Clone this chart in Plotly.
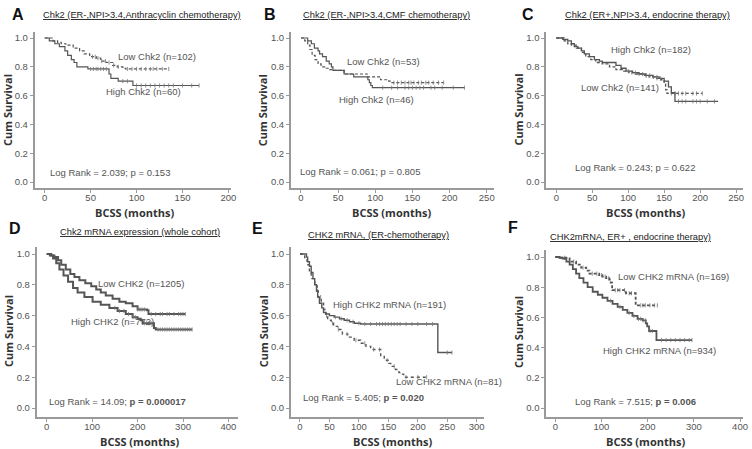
import plotly.graph_objects as go

# ---------------- DATA ----------------
# Panel A: Chk2 (ER-, NPI>3.4, Anthracyclin chemotherapy)
A_high_t = [0, 5, 11, 16, 22, 25, 29, 32, 35, 47, 70, 72, 80, 96, 168]
A_high_s = [1.0, 0.98, 0.96, 0.94, 0.91, 0.88, 0.85, 0.83, 0.80, 0.785, 0.75, 0.72, 0.70, 0.67, 0.67]
A_high_c = [50, 53, 56, 58, 61, 64, 67, 85, 90, 100, 105, 110, 115, 120, 125, 130, 135, 140, 150, 160, 168]
A_low_t = [0, 9, 14, 18, 23, 31, 38, 43, 49, 56, 61, 67, 74, 79, 85, 88, 135]
A_low_s = [1.0, 0.98, 0.97, 0.96, 0.95, 0.93, 0.91, 0.89, 0.87, 0.86, 0.84, 0.83, 0.81, 0.80, 0.79, 0.785, 0.785]
A_low_c = [52, 55, 58, 62, 66, 70, 75, 80, 90, 95, 100, 105, 110, 115, 118, 122, 128, 135]

# Panel B: Chk2 (ER-, NPI>3.4, CMF chemotherapy)
B_high_t = [0, 9, 14, 18, 23, 25, 29, 34, 38, 41, 43, 58, 71, 90, 92, 94, 96, 220]
B_high_s = [1.0, 0.98, 0.96, 0.93, 0.91, 0.89, 0.87, 0.84, 0.82, 0.80, 0.775, 0.75, 0.73, 0.71, 0.69, 0.67, 0.655, 0.655]
B_high_c = [110, 122, 130, 140, 145, 150, 155, 160, 165, 175, 180, 190, 205, 220]
B_low_t = [0, 5, 9, 12, 15, 19, 23, 27, 34, 38, 44, 58, 89, 107, 118, 121, 192]
B_low_s = [1.0, 0.98, 0.95, 0.92, 0.88, 0.85, 0.82, 0.80, 0.79, 0.78, 0.775, 0.75, 0.73, 0.71, 0.70, 0.69, 0.69]
B_low_c = [125, 130, 135, 140, 145, 148, 152, 158, 162, 168, 172, 178, 185, 192]

# Panel C: Chk2 (ER+, NPI>3.4, endocrine therapy)
C_high_t = [0, 9, 16, 21, 25, 30, 35, 39, 46, 53, 60, 64, 83, 90, 97, 106, 115, 124, 134, 143, 150, 156, 160, 165, 225]
C_high_s = [1.0, 0.99, 0.98, 0.96, 0.94, 0.93, 0.91, 0.89, 0.87, 0.85, 0.84, 0.83, 0.81, 0.79, 0.77, 0.76, 0.75, 0.74, 0.73, 0.72, 0.70, 0.66, 0.62, 0.56, 0.56]
C_high_c = [100, 110, 120, 125, 130, 135, 140, 145, 170, 175, 180, 190, 195, 200, 210, 220]
C_low_t = [0, 11, 16, 21, 28, 35, 41, 48, 55, 64, 74, 83, 92, 101, 110, 120, 129, 138, 145, 150, 152, 154, 203]
C_low_s = [1.0, 0.98, 0.96, 0.95, 0.93, 0.90, 0.87, 0.85, 0.83, 0.82, 0.80, 0.78, 0.77, 0.76, 0.75, 0.74, 0.73, 0.72, 0.71, 0.68, 0.64, 0.615, 0.615]
C_low_c = [105, 115, 125, 135, 140, 160, 165, 170, 175, 180, 190, 195, 203]

# Panel D: Chk2 mRNA expression (whole cohort)
D_high_t = [0, 7, 14, 21, 28, 37, 47, 58, 68, 83, 101, 119, 138, 156, 174, 189, 200, 207, 211, 236, 240, 320]
D_high_s = [1.0, 0.99, 0.97, 0.94, 0.90, 0.86, 0.82, 0.78, 0.75, 0.72, 0.69, 0.67, 0.65, 0.63, 0.61, 0.59, 0.58, 0.57, 0.55, 0.52, 0.51, 0.51]
D_high_c = [150, 160, 170, 180, 190, 195, 215, 220, 225, 230, 245, 250, 255, 260, 265, 270, 275, 280, 285, 290, 295, 300, 305, 310, 315, 320]
D_low_t = [0, 10, 17, 25, 32, 42, 52, 61, 72, 85, 98, 109, 119, 130, 145, 160, 174, 189, 200, 221, 224, 305]
D_low_s = [1.0, 0.99, 0.98, 0.96, 0.93, 0.90, 0.87, 0.85, 0.83, 0.81, 0.79, 0.77, 0.75, 0.73, 0.71, 0.69, 0.68, 0.66, 0.64, 0.635, 0.61, 0.61]
D_low_c = [200, 205, 210, 215, 230, 240, 250, 255, 265, 270, 280, 290, 295, 300, 305]

# Panel E: CHK2 mRNA, (ER-chemotherapy)
E_high_t = [0, 11, 13, 16, 19, 22, 25, 28, 30, 33, 37, 40, 44, 50, 58, 67, 75, 84, 92, 103, 234, 258]
E_high_s = [1.0, 0.98, 0.95, 0.92, 0.88, 0.84, 0.80, 0.76, 0.72, 0.68, 0.65, 0.62, 0.61, 0.60, 0.59, 0.58, 0.57, 0.56, 0.55, 0.545, 0.36, 0.36]
E_high_c = [60, 70, 80, 90, 100, 110, 120, 130, 135, 140, 145, 150, 155, 160, 165, 170, 180, 190, 200, 215, 225, 250, 258]
E_low_t = [0, 8, 12, 16, 19, 25, 29, 31, 36, 40, 44, 47, 53, 57, 64, 72, 81, 92, 103, 112, 120, 137, 143, 151, 154, 162, 168, 171, 176, 216]
E_low_s = [1.0, 0.97, 0.93, 0.88, 0.84, 0.80, 0.76, 0.72, 0.68, 0.64, 0.60, 0.57, 0.55, 0.53, 0.51, 0.48, 0.46, 0.44, 0.42, 0.40, 0.38, 0.34, 0.31, 0.29, 0.27, 0.25, 0.23, 0.22, 0.20, 0.20]
E_low_c = [30, 35, 45, 55, 65, 80, 95, 110, 125, 135, 148, 160, 180, 200, 215]

# Panel F: CHK2mRNA, ER+ , endocrine therapy
F_high_t = [0, 9, 16, 24, 31, 38, 45, 52, 61, 70, 81, 92, 102, 113, 124, 135, 146, 156, 167, 178, 189, 196, 199, 203, 219, 296]
F_high_s = [1.0, 0.995, 0.99, 0.97, 0.95, 0.92, 0.89, 0.86, 0.83, 0.80, 0.77, 0.75, 0.73, 0.71, 0.69, 0.67, 0.65, 0.63, 0.61, 0.59, 0.58, 0.56, 0.54, 0.51, 0.45, 0.45]
F_high_c = [120, 140, 160, 170, 180, 185, 190, 195, 205, 210, 230, 240, 250, 260, 270, 280, 290, 296]
F_low_t = [0, 9, 24, 31, 45, 56, 67, 74, 95, 102, 110, 117, 120, 123, 153, 174, 221]
F_low_s = [1.0, 0.995, 0.99, 0.97, 0.95, 0.93, 0.91, 0.89, 0.88, 0.87, 0.86, 0.85, 0.83, 0.78, 0.76, 0.68, 0.68]
F_low_c = [20, 40, 60, 80, 90, 100, 108, 115, 130, 135, 140, 150, 160, 165, 185, 190, 195, 205, 215, 221]

panel_letters = ["A", "B", "C", "D", "E", "F"]
panel_titles = [
    "Chk2 (ER-,NPI&gt;3.4,Anthracyclin chemotherapy)",
    "Chk2 (ER-,NPI&gt;3.4,CMF chemotherapy)",
    "Chk2 (ER+,NPI&gt;3.4, endocrine therapy)",
    "Chk2 mRNA expression (whole cohort)",
    "CHK2 mRNA, (ER-chemotherapy)",
    "CHK2mRNA, ER+ , endocrine therapy)",
]
high_labels = ["High Chk2 (n=60)", "High Chk2 (n=46)", "High Chk2 (n=182)",
               "High CHK2 (n=772)", "High CHK2 mRNA (n=191)", "High CHK2 mRNA (n=934)"]
low_labels = ["Low Chk2 (n=102)", "Low Chk2 (n=53)", "Low Chk2 (n=141)",
              "Low CHK2 (n=1205)", "Low CHK2 mRNA (n=81)", "Low CHK2 mRNA (n=169)"]
logrank_texts = ["Log Rank = 2.039; p = 0.153", "Log Rank = 0.061; p = 0.805",
                 "Log Rank = 0.243; p = 0.622", "Log Rank = 14.09; <b>p = 0.000017</b>",
                 "Log Rank = 5.405; <b>p = 0.020</b>", "Log Rank = 7.515; <b>p = 0.006</b>"]
x_ticks = [[0, 50, 100, 150, 200], [0, 50, 100, 150, 200, 250], [0, 50, 100, 150, 200, 250],
           [0, 100, 200, 300, 400], [0, 50, 100, 150, 200, 250, 300], [0, 100, 200, 300, 400]]
y_ticks = [0.0, 0.2, 0.4, 0.6, 0.8, 1.0]

series = [
    (A_high_t, A_high_s, A_high_c, A_low_t, A_low_s, A_low_c),
    (B_high_t, B_high_s, B_high_c, B_low_t, B_low_s, B_low_c),
    (C_high_t, C_high_s, C_high_c, C_low_t, C_low_s, C_low_c),
    (D_high_t, D_high_s, D_high_c, D_low_t, D_low_s, D_low_c),
    (E_high_t, E_high_s, E_high_c, E_low_t, E_low_s, E_low_c),
    (F_high_t, F_high_s, F_high_c, F_low_t, F_low_s, F_low_c),
]

# ---------------- LAYOUT GEOMETRY (pixels) ----------------
W, H = 752, 449
# x0, x1 (axis extent), zx (px of 0 months), kx (px/month), ytop, ybot, y1 (px of 1.0), ky (px per unit)
geom = [
    (35, 233, 45, 0.925, 32, 188, 38, 144),
    (293, 497, 303, 0.748, 32, 188, 38, 144),
    (550, 748, 560, 0.724, 32, 188, 38, 144),
    (37, 240, 47, 0.4575, 247, 417, 254, 154),
    (293, 487, 302, 0.593, 247, 417, 254, 154),
    (550, 748, 559, 0.465, 250, 417, 257, 151),
]
letter_pos = [(18, 15), (272, 15), (532, 15), (15, 228), (259, 228), (516, 227)]
title_pos = [(41, 15), (303, 15), (567, 15), (58, 232), (308, 235), (552, 237)]
ytitle_x = [8, 265, 522, 8, 265, 522]
xtitle_pos = [(135, 212), (394, 212), (650, 212), (140, 441), (395, 441), (650, 441)]
high_label_pos = [(65, 0.63), (49, 0.57), (73, 0.92), (50, 0.56), (52, 0.67), (99, 0.38)]
low_label_pos = [(78, 0.87), (59, 0.835), (32, 0.655), (109, 0.81), (160, 0.17), (131, 0.87)]
lr_pos = [(3.5, 0.065), (-4, 0.07), (23, 0.10), (0, 0.04), (1.7, 0.07), (38, 0.04)]
low_dash = ["3px,2px", "3px,2px", "3px,2px", "solid", "dot", "3px,2px"]
line_w = [1.2, 1.2, 1.3, 2.0, 1.4, 1.8]

LINE = "#555555"
CENS = "#777777"
AXIS = "#9a9a9a"
TXT = "#555555"
FONT = "Liberation Sans, Arial, sans-serif"
BOLDFONT = "Open Sans, DejaVu Sans, sans-serif"


def step_value(ts, ss, c):
    v = ss[0]
    for t, s in zip(ts, ss):
        if t <= c:
            v = s
    return v


fig = go.Figure()
annotations = []
layout = {}

for i in range(6):
    x0, x1, zx, kx, ytop, ybot, y1, ky = geom[i]
    xr = [(x0 - zx) / kx, (x1 - zx) / kx]
    yr = [1 - (ybot - y1) / ky, 1 - (ytop - y1) / ky]
    xa = "xaxis" if i == 0 else f"xaxis{i+1}"
    ya = "yaxis" if i == 0 else f"yaxis{i+1}"
    xref = "x" if i == 0 else f"x{i+1}"
    yref = "y" if i == 0 else f"y{i+1}"
    layout[xa] = dict(domain=[x0 / W, x1 / W], range=xr, anchor=yref,
                      showline=True, linecolor=AXIS, linewidth=2, ticks="outside",
                      ticklen=3, tickcolor=AXIS, tickwidth=1, tickvals=x_ticks[i],
                      showgrid=False, zeroline=False, ticklabelstandoff=-3,
                      tickfont=dict(family=FONT, size=9.5, color=TXT))
    layout[ya] = dict(domain=[1 - ybot / H, 1 - ytop / H], range=yr, anchor=xref,
                      showline=True, linecolor=AXIS, linewidth=2, ticks="outside",
                      ticklen=3, tickcolor=AXIS, tickwidth=1, tickvals=y_ticks,
                      tickformat=".1f", showgrid=False, zeroline=False,
                      tickfont=dict(family=FONT, size=9.5, color=TXT))

    ht, hs, hc, lt, ls, lc = series[i]
    # low curve
    fig.add_trace(go.Scatter(x=lt, y=ls, mode="lines", line_shape="hv",
                             line=dict(color=LINE, width=line_w[i], dash=low_dash[i]),
                             xaxis=xref, yaxis=yref, showlegend=False, hoverinfo="skip"))
    fig.add_trace(go.Scatter(x=lc, y=[step_value(lt, ls, c) for c in lc], mode="markers",
                             marker=dict(symbol="line-ns-open", size=3, color=CENS,
                                         line=dict(color=CENS, width=0.8)),
                             xaxis=xref, yaxis=yref, showlegend=False, hoverinfo="skip"))
    # high curve
    fig.add_trace(go.Scatter(x=ht, y=hs, mode="lines", line_shape="hv",
                             line=dict(color=LINE, width=line_w[i]),
                             xaxis=xref, yaxis=yref, showlegend=False, hoverinfo="skip"))
    fig.add_trace(go.Scatter(x=hc, y=[step_value(ht, hs, c) for c in hc], mode="markers",
                             marker=dict(symbol="line-ns-open", size=3, color=CENS,
                                         line=dict(color=CENS, width=0.8)),
                             xaxis=xref, yaxis=yref, showlegend=False, hoverinfo="skip"))

    # in-plot labels
    for (tx, ty), txt in [(high_label_pos[i], high_labels[i]), (low_label_pos[i], low_labels[i]),
                          (lr_pos[i], logrank_texts[i])]:
        annotations.append(dict(x=tx, y=ty, xref=xref, yref=yref, text=txt, showarrow=False,
                                xanchor="left", yanchor="middle",
                                font=dict(family=FONT, size=9.5, color=TXT)))
    # panel letter
    lx, ly = letter_pos[i]
    annotations.append(dict(x=lx / W, y=1 - ly / H, xref="paper", yref="paper",
                            text=f"<b>{panel_letters[i]}</b>", showarrow=False,
                            xanchor="center", yanchor="middle",
                            font=dict(family=FONT, size=16, color="#111111")))
    # panel title (underlined)
    tx, ty = title_pos[i]
    annotations.append(dict(x=tx / W, y=1 - ty / H, xref="paper", yref="paper",
                            text=f'<span style="text-decoration:underline">{panel_titles[i]}</span>',
                            showarrow=False, xanchor="left", yanchor="middle",
                            font=dict(family=FONT, size=9.3, color="#222222")))
    # axis titles
    annotations.append(dict(x=ytitle_x[i] / W, y=1 - ((y1 + y1 + ky) / 2) / H,
                            xref="paper", yref="paper", text="<b>Cum Survival</b>",
                            textangle=-90, showarrow=False, xanchor="center", yanchor="middle",
                            font=dict(family=BOLDFONT, size=11, color="#333333")))
    bx, by = xtitle_pos[i]
    annotations.append(dict(x=bx / W, y=1 - by / H, xref="paper", yref="paper",
                            text="<b>BCSS (months)</b>", showarrow=False,
                            xanchor="center", yanchor="middle",
                            font=dict(family=BOLDFONT, size=11, color="#333333")))

fig.update_layout(width=W, height=H, margin=dict(l=0, r=0, t=0, b=0),
                  paper_bgcolor="white", plot_bgcolor="white",
                  annotations=annotations, **layout)

fig.write_html("out.html", config={"displayModeBar": False},
               post_script="document.body.style.margin='0';document.body.style.overflow='hidden';")
